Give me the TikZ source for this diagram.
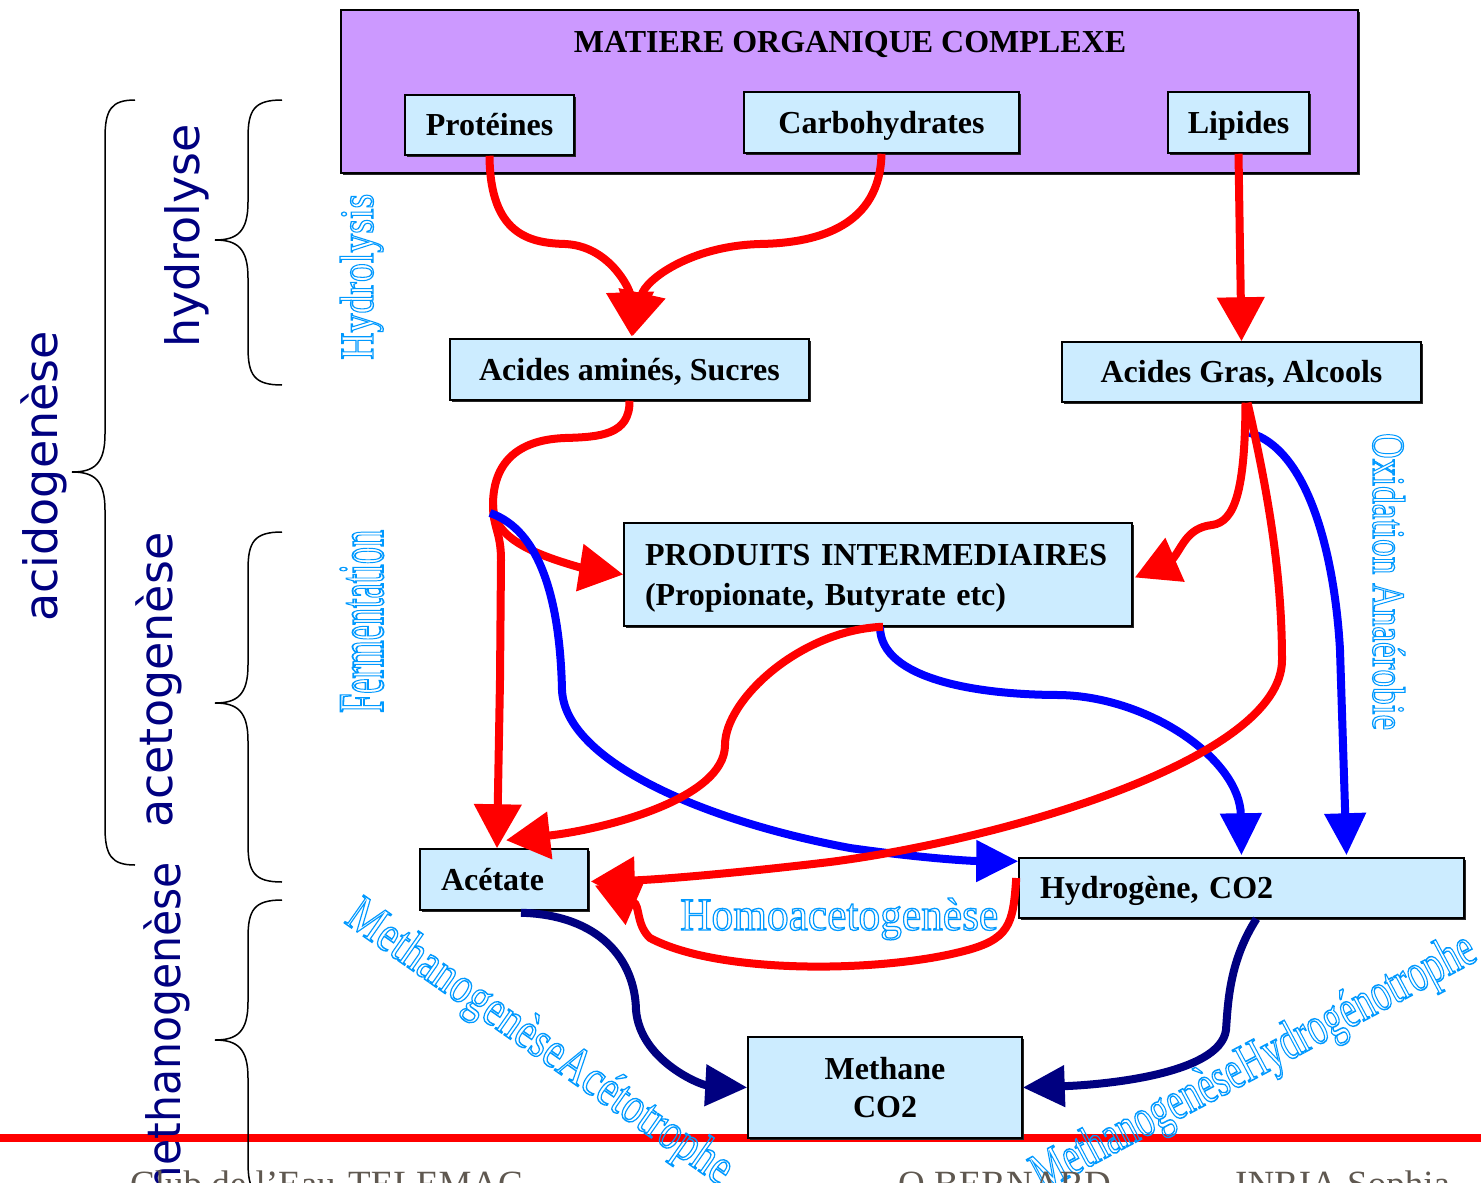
\documentclass[tikz,border=0pt]{standalone}
\usepackage{fontspec}
\setmainfont{Liberation Serif}
\newfontfamily\navysans{DejaVu Sans}
\usepackage{graphicx}
\usetikzlibrary{arrows.meta,calc,shadows}

\definecolor{purplebox}{RGB}{204,153,255}
\definecolor{paleblue}{RGB}{204,236,255}
\definecolor{labelblue}{RGB}{0,153,255}
\definecolor{navy}{RGB}{0,0,128}
\definecolor{footgray}{RGB}{95,88,80}

% hollow (stroked) lettering, stretched to a given width and height
\newcommand{\outlinetext}[3]{\resizebox{#1}{#2}{\special{pdf:literal direct q 1 Tr 1.1 w}#3\special{pdf:literal direct Q}}}

% vertical curly brace: #1 end x, #2 stem x, #3 tip x, #4 top y, #5 tip y, #6 bottom y
\newcommand{\curlybrace}[6]{%
  \draw[bracepen] (#1,#4) .. controls (#2+6,#4) and (#2,#4+10) .. (#2,#4+38)
    -- (#2,#5-38) .. controls (#2,#5-8) and (#3+22,#5) .. (#3,#5)
    .. controls (#3+22,#5) and (#2,#5+8) .. (#2,#5+38)
    -- (#2,#6-38) .. controls (#2,#6-10) and (#2+6,#6) .. (#1,#6);}

\begin{document}
\begin{tikzpicture}[x=1pt,y=-1pt,
  box/.style={draw=black, line width=1.5pt, fill=paleblue, inner sep=0pt,
    font=\fontsize{32}{40}\selectfont\bfseries,
    drop shadow={shadow xshift=2pt,shadow yshift=-2pt,opacity=1,fill=black!85}},
  oneline/.style={text height=28pt, text depth=7pt},
  bigbox/.style={draw=black, line width=1.5pt, fill=purplebox, inner sep=0pt,
    drop shadow={shadow xshift=2pt,shadow yshift=-2pt,opacity=1,fill=black!85}},
  wa/.style={inner sep=0pt, text=labelblue, font=\fontsize{40}{40}\selectfont},
  phase/.style={inner sep=0pt, text=navy, font=\navysans\fontsize{46}{46}\selectfont, rotate=90},
  foot/.style={inner sep=0pt, anchor=base west, text=footgray, font=\fontsize{37}{40}\selectfont},
  bracepen/.style={black, line width=1.5pt},
  redflow/.style={red, line width=8pt, -{Triangle[length=44pt,width=46pt]}},
  blueflow/.style={blue, line width=8pt, -{Triangle[length=42pt,width=40pt]}},
  navyflow/.style={navy, line width=8pt, -{Triangle[length=42pt,width=40pt]}},
]
\useasboundingbox (0,0) rectangle (1481,1183);
\fill[white] (0,0) rectangle (1481,1183);

% baseline rule of the slide
\draw[red, line width=8pt] (0,1138) -- (1481,1138);

% ---------- boxes ----------
\node[bigbox, minimum width=1017pt, minimum height=163pt] (mat) at (849.5,91.5) {};
\node[anchor=base, inner sep=0pt, font=\fontsize{32}{40}\selectfont\bfseries] (title) at (850,52) {MATIERE ORGANIQUE COMPLEXE};
\node[box, oneline, minimum width=169pt, minimum height=60pt] (prot) at (489.5,125) {Protéines};
\node[box, oneline, minimum width=275pt, minimum height=61pt] (carb) at (881.5,122.5) {Carbohydrates};
\node[box, oneline, minimum width=141pt, minimum height=61pt] (lip) at (1238.5,122.5) {Lipides};
\node[box, oneline, minimum width=359pt, minimum height=61pt] (aas) at (629.5,369.5) {Acides aminés, Sucres};
\node[box, oneline, minimum width=359pt, minimum height=60pt] (agc) at (1241.5,372) {Acides Gras, Alcools};
\node[box, minimum width=508pt, minimum height=103pt, text width=466pt, align=left] (pi) at (878,574.5)
  {\rule{0pt}{28pt}PRODUITS INTERMEDIAIRES\\(Propionate, Butyrate etc)};
\node[box, oneline, minimum width=168pt, minimum height=61pt, text width=126pt, align=left] (ace) at (504,879.5) {Acétate};
\node[box, oneline, minimum width=445pt, minimum height=60pt, text width=403pt, align=left] (hyd) at (1241.5,888) {Hydrogène, CO2};
\node[box, minimum width=274pt, minimum height=101pt, align=center, font=\fontsize{32}{38}\selectfont\bfseries] (meth) at (885,1087.5) {Methane\\CO2};

% ---------- fermentation of amino acids and sugars ----------
\coordinate (split) at (493,505);
\draw[redflow] (aas.south) .. controls (630,435) and (600,437) .. (565,438)
  .. controls (510,440) and (493,470) .. (split)
  .. controls (493,540) and (540,556) .. (582,568) -- (pi.west);
\draw[redflow] (split) .. controls (493,528) and (501,532) .. (501,560)
  -- (500,680) -- ($(ace.north)+(-7,0)$);

% ---------- hydrogen and CO2 pathways ----------
\draw[blueflow] (490,513) .. controls (540,530) and (560,600) .. (562,690)
  .. controls (565,760) and (700,820) .. (850,848)
  .. controls (920,858) and (970,861) .. ($(hyd.north west)+(0,4)$);
\draw[blueflow] ($(pi.south)+(2,0)$) .. controls (880,680) and (980,695) .. (1060,695)
  .. controls (1150,697) and (1240,760) .. ($(hyd.north)+(0,-2)$);
\draw[blueflow] ($(agc.south)+(8,30)$) .. controls (1310,450) and (1335,560) .. (1340,650)
  -- ($(hyd.north)+(105,-2)$);

% ---------- hydrolysis ----------
\draw[redflow] (prot.south) .. controls (490,235) and (530,243) .. (565,244)
  .. controls (610,246) and (630,290) .. ($(aas.north)+(2,-2)$);
\draw[redflow] (carb.south) .. controls (880,225) and (820,243) .. (760,244)
  .. controls (690,246) and (645,280) .. ($(aas.north)+(3,-2)$);
\draw[redflow] (lip.south) -- (1240,250) -- (agc.north);

% ---------- acetogenesis ----------
\draw[redflow] ($(agc.south)+(4,0)$) .. controls (1245,490) and (1235,522) .. (1212,525)
  .. controls (1185,528) and (1182,550) .. (1170,562) -- ($(pi.east)+(2,3)$);
\draw[redflow] ($(agc.south)+(6,0)$) .. controls (1270,500) and (1282,580) .. (1282,660)
  .. controls (1282,760) and (1000,840) .. (830,862)
  .. controls (720,875) and (650,880) .. ($(ace.east)+(2,2)$);
\draw[redflow] ($(pi.south)+(5,0)$) .. controls (800,630) and (725,700) .. (725,745)
  .. controls (725,800) and (600,830) .. ($(ace.north)+(2,-8)$);

% ---------- homoacetogenesis ----------
\draw[redflow] ($(hyd.west)+(-2,-10)$) .. controls (1013,925) and (1010,940) .. (960,952)
  .. controls (880,972) and (720,975) .. (650,938)
  .. controls (636,925) and (640,905) .. ($(ace.east)+(6,6)$);

% ---------- methanogenesis ----------
\draw[navyflow] ($(ace.south)+(17,2)$) .. controls (600,915) and (635,960) .. (636,1010)
  .. controls (640,1060) and (700,1085) .. (meth.west);
\draw[navyflow] ($(hyd.south)+(15,0)$) .. controls (1230,960) and (1228,1000) .. (1226,1030)
  .. controls (1220,1075) and (1100,1085) .. (meth.east);

% ---------- process labels ----------
\node[wa, rotate=90, anchor=base west] (lhydrolysis) at (373,360) {\outlinetext{166pt}{33pt}{Hydrolysis}};
\node[wa, rotate=90, anchor=base west] (lfermentation) at (383,713) {\outlinetext{183pt}{43pt}{Fermentation}};
\node[wa, rotate=-90, anchor=base west] (loxidation) at (1373,433) {\outlinetext{297pt}{32pt}{Oxidation Anaérobie}};
\node[wa, anchor=base west] (lhomo) at (680,930) {\outlinetext{318pt}{32pt}{Homoacetogenèse}};
\node[wa, rotate=-35, anchor=base west] (lacetotrophe) at (343,922) {\outlinetext{460pt}{36pt}{MethanogenèseAcétotrophe}};
\node[wa, rotate=28, anchor=base west] (lhydrogeno) at (1042,1192) {\outlinetext{495pt}{38pt}{MethanogenèseHydrogénotrophe}};

% ---------- phases ----------
\node[phase, anchor=base west] (pacido) at (57,622) {acidogenèse};
\node[phase, anchor=base west] (phydro) at (199,348) {hydrolyse};
\node[phase, anchor=base west] (paceto) at (172,828) {acetogenèse};
\node[phase, anchor=base east] (pmethano) at (180,862) {\resizebox{345pt}{\height}{methanogenèse}};

\curlybrace{135}{105}{72}{100}{472}{865}
\curlybrace{282}{248}{215}{100}{240}{385}
\curlybrace{282}{248}{215}{532}{703}{882}
\curlybrace{282}{248}{215}{900}{1040}{1200}

% ---------- footer ----------
\node[foot] (fleft) at (130,1196) {Club de l'Eau};
\node[foot] (ftelemac) at (348,1196) {TELEMAC};
\node[foot] (fauthor) at (898,1196) {O.BERNARD};
\node[foot] (finria) at (1235,1196) {INRIA Sophia};
\end{tikzpicture}
\end{document}
